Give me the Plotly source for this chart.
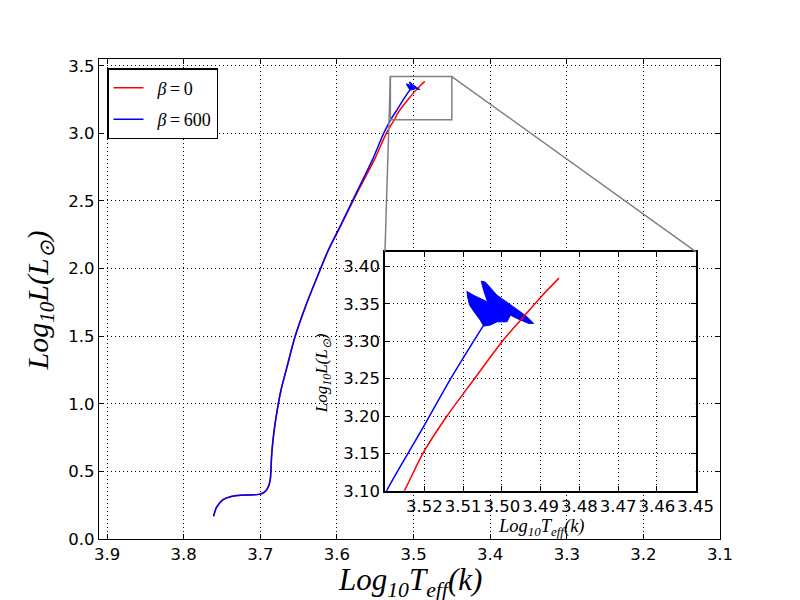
import plotly.graph_objects as go

# evolutionary tracks (Log10 Teff, Log10 L)
track_beta0_x = [3.761, 3.757, 3.749, 3.738, 3.725, 3.712, 3.702, 3.695, 3.690, 3.687,
                 3.686, 3.685, 3.682, 3.678, 3.673, 3.665, 3.6546, 3.6394, 3.622, 3.6111,
                 3.5955, 3.574, 3.5515, 3.5355, 3.525, 3.5203, 3.5142, 3.5073, 3.500,
                 3.4948, 3.490, 3.4853]
track_beta0_y = [0.168, 0.235, 0.290, 0.315, 0.324, 0.326, 0.330, 0.345, 0.380, 0.440,
                 0.520, 0.636, 0.800, 0.950, 1.100, 1.275, 1.497, 1.744, 1.990, 2.137,
                 2.310, 2.556, 2.800, 3.000, 3.102, 3.151, 3.200, 3.2486, 3.2995,
                 3.3306, 3.359, 3.3845]

track_beta600_x = [3.761, 3.757, 3.749, 3.738, 3.725, 3.712, 3.702, 3.695, 3.690, 3.687,
                   3.686, 3.685, 3.682, 3.678, 3.673, 3.665, 3.6546, 3.6394, 3.622, 3.6111,
                   3.596, 3.575, 3.554, 3.539, 3.5296, 3.5211, 3.5129, 3.5082, 3.5047]
track_beta600_y = [0.168, 0.235, 0.290, 0.315, 0.324, 0.326, 0.330, 0.345, 0.380, 0.440,
                   0.520, 0.636, 0.800, 0.950, 1.100, 1.275, 1.497, 1.744, 1.990, 2.137,
                   2.310, 2.556, 2.800, 3.000, 3.1017, 3.178, 3.253, 3.293, 3.3217]

# outline of the dense loop region at the tip of the beta=600 track
tip_beta600_x = [3.50474, 3.50560, 3.50689, 3.50836, 3.50888, 3.50904, 3.50733, 3.50474,
                 3.50371, 3.50474, 3.50534, 3.50430, 3.50128, 3.49699, 3.49352, 3.49181,
                 3.49311, 3.49611, 3.49784, 3.49869, 3.50128, 3.50301, 3.50474]
tip_beta600_y = [3.32034, 3.32830, 3.33720, 3.34822, 3.35924, 3.36681, 3.36150, 3.35486,
                 3.35260, 3.36814, 3.38048, 3.37916, 3.36150, 3.34596, 3.33269, 3.32392,
                 3.32392, 3.33057, 3.33495, 3.32605, 3.32605, 3.32167, 3.32034]

main_xticks = [3.9, 3.8, 3.7, 3.6, 3.5, 3.4, 3.3, 3.2, 3.1]
main_yticks = [0.0, 0.5, 1.0, 1.5, 2.0, 2.5, 3.0, 3.5]
inset_xticks = [3.52, 3.51, 3.50, 3.49, 3.48, 3.47, 3.46, 3.45]
inset_yticks = [3.10, 3.15, 3.20, 3.25, 3.30, 3.35, 3.40]

main_xrange = [3.9105, 3.1]
main_yrange = [0.0, 3.55]
inset_xrange = [3.5302, 3.45]
inset_yrange = [3.10, 3.42]
inset_xdom = [0.4605, 0.9609]
inset_ydom = [0.1004, 0.5988]

RED = "#ff0000"
BLUE = "#0000ff"
GRAY = "#808080"
tick_font = dict(family="DejaVu Sans", size=16.5, color="black")
math_font = dict(family="Liberation Serif", color="black", style="italic")

fig = go.Figure()


def add_tracks(xa, ya, red_on_top, legend):
    red = go.Scatter(x=track_beta0_x, y=track_beta0_y, mode="lines",
                     line=dict(color=RED, width=1.5, shape="spline", smoothing=0.8),
                     name="\u2002<i>β</i>\u2009=\u20090", legendgroup="a",
                     showlegend=legend, xaxis=xa, yaxis=ya)
    blue = [
        go.Scatter(x=track_beta600_x, y=track_beta600_y, mode="lines",
                   line=dict(color=BLUE, width=1.5, shape="spline", smoothing=0.8),
                   name="\u2002<i>β</i>\u2009=\u2009600", legendgroup="b",
                   showlegend=legend, xaxis=xa, yaxis=ya),
        go.Scatter(x=tip_beta600_x, y=tip_beta600_y, mode="lines", fill="toself",
                   fillcolor=BLUE, line=dict(color=BLUE, width=1),
                   showlegend=False, xaxis=xa, yaxis=ya),
    ]
    traces = blue + [red] if red_on_top else [red] + blue
    for t in traces:
        fig.add_trace(t)


add_tracks("x", "y", False, True)
add_tracks("x2", "y2", True, False)


def axis_style(ticks, fmt, lw):
    return dict(tickvals=ticks, tickformat=fmt, ticks="inside", ticklen=5,
                tickcolor="black", showline=True, linecolor="black", linewidth=lw,
                mirror="ticks", showgrid=True, gridcolor="black", gridwidth=1,
                griddash="1px,3px", zeroline=False, tickfont=tick_font, tickangle=0)


fig.update_layout(
    width=800, height=600,
    margin=dict(l=91, r=88, t=51, b=69),
    paper_bgcolor="white", plot_bgcolor="white",
    xaxis=dict(domain=[0, 1], range=main_xrange, anchor="y",
               **axis_style(main_xticks, ".1f", 1.2)),
    yaxis=dict(domain=[0, 1], range=main_yrange, anchor="x",
               **axis_style(main_yticks, ".1f", 1.2)),
    xaxis2=dict(domain=inset_xdom, range=inset_xrange, anchor="y2",
                **axis_style(inset_xticks, ".2f", 1.5)),
    yaxis2=dict(domain=inset_ydom, range=inset_yrange, anchor="x2",
                **axis_style(inset_yticks, ".2f", 1.5)),
    showlegend=True,
    legend=dict(x=0.0129, y=0.981, xanchor="left", yanchor="top",
                bordercolor="black", borderwidth=1.5, bgcolor="white",
                font=dict(family="Liberation Serif", size=18, color="black"),
                tracegroupgap=5, itemwidth=30),
)


def to_paper(x, y):
    px = (x - main_xrange[0]) / (main_xrange[1] - main_xrange[0])
    py = (y - main_yrange[0]) / (main_yrange[1] - main_yrange[0])
    return px, py


# zoom box on the main panel and connector lines to the inset
fig.add_shape(type="rect", xref="x", yref="y",
              x0=inset_xrange[0], x1=inset_xrange[1],
              y0=inset_yrange[0], y1=inset_yrange[1],
              line=dict(color=GRAY, width=1.5))
for cx, ix in [(inset_xrange[1], inset_xdom[1]), (inset_xrange[0], inset_xdom[0])]:
    px, py = to_paper(cx, inset_yrange[1])
    fig.add_shape(type="line", xref="paper", yref="paper",
                  x0=px, y0=py, x1=ix, y1=inset_ydom[1],
                  line=dict(color=GRAY, width=1.5))

# axis titles
fig.add_annotation(text="Log<sub>10</sub>T<sub>eff</sub>(k)", xref="paper", yref="paper",
                   x=0.5008, y=-0.09, showarrow=False, xanchor="center", yanchor="middle",
                   font=dict(size=31, **math_font))
fig.add_annotation(text="Log<sub>10</sub>L(L<sub>⊙</sub>)", xref="paper", yref="paper",
                   x=-0.095, y=0.497, showarrow=False, textangle=-90,
                   xanchor="center", yanchor="middle", font=dict(size=30, **math_font))
fig.add_annotation(text="Log<sub>10</sub>T<sub>eff</sub>(k)", xref="paper", yref="paper",
                   x=0.7118, y=0.024, showarrow=False, xanchor="center", yanchor="middle",
                   font=dict(size=18.5, **math_font))
fig.add_annotation(text="Log<sub>10</sub>L(L<sub>⊙</sub>)", xref="paper", yref="paper",
                   x=0.362, y=0.345, showarrow=False, textangle=-90,
                   xanchor="center", yanchor="middle", font=dict(size=17, **math_font))

fig.write_html("out.html")
